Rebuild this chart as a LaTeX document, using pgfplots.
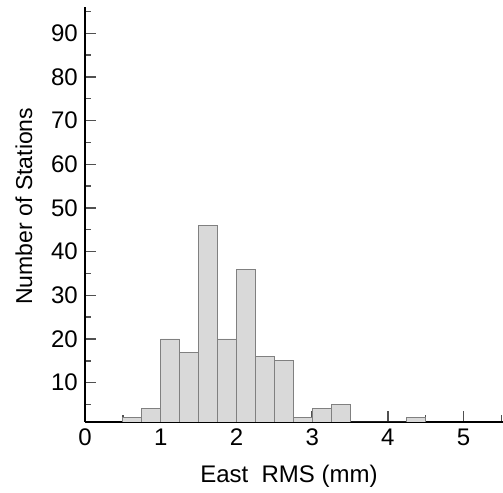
\documentclass[border=0pt]{standalone}
\usepackage{fontspec}
\setmainfont{Liberation Sans}
\usepackage{pgfplots}
\pgfplotsset{compat=1.18}
\definecolor{barfill}{HTML}{D9D9D9}
\definecolor{baredge}{HTML}{808080}
\definecolor{tickc}{HTML}{505050}
\begin{document}
\begin{tikzpicture}
\begin{axis}[
  scale only axis, width=418pt, height=415pt,
  xmin=0, xmax=5.52, ymin=1, ymax=96,
  axis lines=left,
  axis line style={-, line width=2.8pt, black},
  tick align=inside,
  xtick={0,1,2,3,4,5},
  minor xtick={0.5,1.5,2.5,3.5,4.5,5.5},
  ytick={10,20,30,40,50,60,70,80,90},
  minor ytick={5,15,25,35,45,55,65,75,85,95},
  major tick length=11pt, minor tick length=6.5pt,
  every tick/.style={tickc, line width=1.4pt},
  /pgf/number format/assume math mode=true,
  tick label style={font=\fontsize{24}{28}\selectfont},
  xticklabel style={inner sep=7pt},
  yticklabel style={inner sep=7pt},
  xlabel={East\ \ RMS (mm)},
  ylabel={Number of Stations},
  x label style={font=\fontsize{24}{28}\selectfont, at={([yshift=-61pt]axis description cs:0.488,0)}, anchor=base},
  y label style={font=\fontsize{23}{27}\selectfont, at={([xshift=-61pt]axis description cs:0,0.52)}, anchor=center},
  clip=true,
]
\addplot[ybar interval, fill=barfill, draw=baredge, line width=0.8pt] coordinates {
(0.5,2) (0.75,4) (1.0,20) (1.25,17) (1.5,46) (1.75,20) (2.0,36) (2.25,16)
(2.5,15) (2.75,2) (3.0,4) (3.25,5) (3.5,0) (3.75,0) (4.0,0) (4.25,2) (4.5,0)
};
\end{axis}
\pgfresetboundingbox
\path ([xshift=-85pt,yshift=-71pt]current axis.south west) rectangle ([yshift=7pt]current axis.north east);
\end{tikzpicture}
\end{document}
